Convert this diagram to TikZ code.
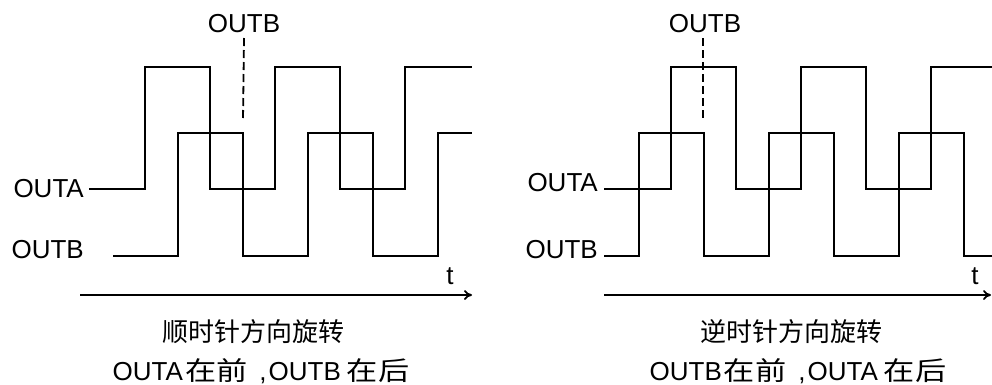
\documentclass[tikz,border=0pt]{standalone}
\usepackage{fontspec}
\setmainfont{Liberation Sans}
\newfontfamily\cjk{Noto Sans CJK SC}
\newfontfamily\cjkwide[FakeStretch=1.2]{Noto Sans CJK SC}
\usetikzlibrary{arrows.meta}
\tikzset{
  wave/.style={line width=1.8pt},
  sig/.style={font=\fontsize{26}{30}\selectfont, inner sep=0pt},
  guide/.style={line width=1.8pt, dash pattern=on 8pt off 4pt},
  taxis/.style={line width=1.8pt, -{To[length=8pt,width=10pt]}}
}
\begin{document}
\begin{tikzpicture}[x=1pt,y=-1pt]
  \useasboundingbox (0,0) rectangle (992,384);
  % Izquierda: horario
  \node[sig, anchor=east] (la) at (84,189) {OUTA};
  \node[sig, anchor=east] (lb) at (84,250) {OUTB};
  \node[sig] (ltop) at (244,24) {OUTB};
  \node[sig] (lt) at (450,276) {t};
  % Onda OUTA
  \draw[wave] (89,189) -| (145,67) -| (210,189) -| (275,67) -| (340,189) -| (405,67) -- (472,67);
  % Onda OUTB
  \draw[wave] (113,256) -| (178,133) -| (243,256) -| (308,133) -| (373,256) -| (438,133) -- (472,133);
  % Linea de referencia
  \coordinate (ld) at (243,120);
  \draw[guide] (ltop.south |- 0,38) -- (ld);
  % Eje t
  \draw[taxis] (80,295) -- (472,295);
  \node[sig, anchor=base] (lc1) at (253,341) {\cjk 顺时针方向旋转};
  \node[sig, anchor=base] (lc2) at (261,380) {OUTA\hspace{2pt}{\cjkwide 在前}\hspace{12pt},\hspace{2pt}OUTB\hspace{6pt}{\cjkwide 在后}};
  % Derecha: antihorario
  \node[sig, anchor=east] (ra) at (598,183) {OUTA};
  \node[sig, anchor=east] (rb) at (598,250) {OUTB};
  \node[sig] (rtop) at (705,24) {OUTB};
  \node[sig] (rt) at (975,276) {t};
  % Onda OUTA
  \draw[wave] (604,189) -| (671,67) -| (736,189) -| (801,67) -| (866,189) -| (931,67) -- (994,67);
  % Onda OUTB
  \draw[wave] (604,256) -| (639,133) -| (704,256) -| (769,133) -| (834,256) -| (899,133) -| (964,256) -- (994,256);
  % Linea de referencia
  \coordinate (rd) at (703,120);
  \draw[guide] (rd |- 0,38) -- (rd);
  % Eje t
  \draw[taxis] (604,295) -- (991,295);
  \node[sig, anchor=base] (rc1) at (791,341) {\cjk 逆时针方向旋转};
  \node[sig, anchor=base] (rc2) at (798,380) {OUTB\hspace{2pt}{\cjkwide 在前}\hspace{12pt},\hspace{2pt}OUTA\hspace{6pt}{\cjkwide 在后}};
\end{tikzpicture}
\end{document}
